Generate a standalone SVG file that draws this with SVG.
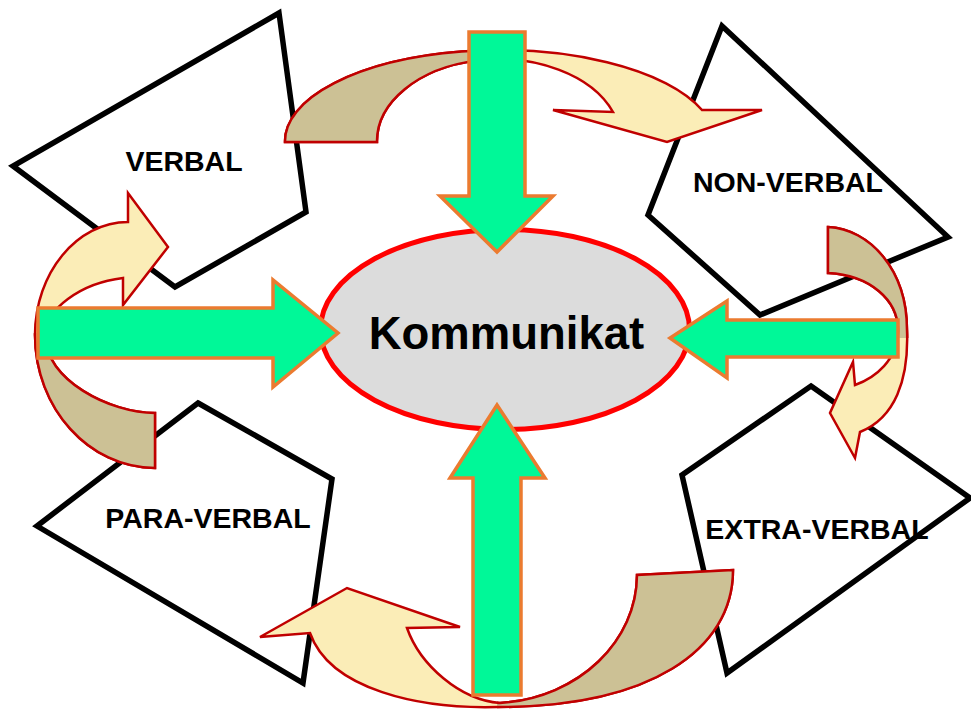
<svg xmlns="http://www.w3.org/2000/svg" width="971" height="709" viewBox="0 0 971 709">
<style>
.pent{fill:#fff;stroke:#000;stroke-width:5.5;stroke-linejoin:miter}
.lbl{font-family:"Liberation Sans",Arial,sans-serif;font-weight:bold;font-size:28.5px;fill:#000;text-anchor:middle}
.curl{fill:#FBEDB7;stroke:#C00000;stroke-width:2.5;stroke-linejoin:miter}
.curd{fill:#CCC195;stroke:#C00000;stroke-width:2.5;stroke-linejoin:miter}
.grn{fill:#00F898;stroke:#EB7B30;stroke-width:3.5;stroke-linejoin:miter}
</style>
<defs>
<path id="cTop" d="M285,142 A215,91 0 0 1 702,110 L762,110 L667,142 L553,110 L613,112 A122,82 0 0 0 377,142 Z"/>
<path id="cLeft" d="M128,222 C77,222 35,273 35,335 C35,408 89,468 155,468 L155,413 C110,413 45,380 45,335 C45,310 80,283 123,278 L123,305 L168,247 L128,193 Z"/>
<path id="cRight" d="M828,227 C870,229 907,270 907,330 C909,380 895,418 860,432 L855,458 L830,413 L853,362 L855,385 C875,378 898,360 898,330 C898,300 870,275 828,273 Z"/>
<path id="cBot" d="M733,570 C733,650 650,707 497,707 C420,709 330,690 310,633 L260,637 L347,588 L460,627 L407,628 C420,665 460,700 500,703 C580,698 637,640 637,575 Z"/>
<clipPath id="clipTop"><rect x="0" y="0" width="497" height="709"/></clipPath>
<clipPath id="clipLeft"><rect x="0" y="333" width="971" height="400"/></clipPath>
<clipPath id="clipRight"><rect x="0" y="0" width="971" height="338"/></clipPath>
<clipPath id="clipBot"><rect x="497" y="0" width="500" height="709"/></clipPath>
</defs>
<g id="node-verbal">
<polygon class="pent" points="279,13 306,212 175,287 13,166"/>
<text class="lbl" x="184" y="171">VERBAL</text>
</g>
<g id="node-nonverbal">
<polygon class="pent" points="722,26 948,237 760,315 648,215"/>
<text class="lbl" x="788" y="192">NON-VERBAL</text>
</g>
<g id="node-paraverbal">
<polygon class="pent" points="198,403 332,479 303,683 37,526"/>
<text class="lbl" x="208" y="528">PARA-VERBAL</text>
</g>
<g id="node-extraverbal">
<polygon class="pent" points="811,386 970,498 727,673 682,475"/>
<text class="lbl" x="817" y="539">EXTRA-VERBAL</text>
</g>
<g id="connectors">
<g id="curved-arrows">
<use href="#cTop" class="curl"/>
<use href="#cTop" class="curd" clip-path="url(#clipTop)"/>
<use href="#cLeft" class="curl"/>
<use href="#cLeft" class="curd" clip-path="url(#clipLeft)"/>
<use href="#cRight" class="curl"/>
<use href="#cRight" class="curd" clip-path="url(#clipRight)"/>
<use href="#cBot" class="curl"/>
<use href="#cBot" class="curd" clip-path="url(#clipBot)"/>
</g>
</g>
<g id="node-kommunikat">
<ellipse cx="505" cy="329.5" rx="184.5" ry="100" fill="#DCDCDC" stroke="#FF0000" stroke-width="5"/>
<text x="506.5" y="349" font-family="Liberation Sans, Arial, sans-serif" font-weight="bold" font-size="45.5" text-anchor="middle" fill="#000">Kommunikat</text>
</g>
<g id="connectors-straight">
<path class="grn" d="M469,32 L525,32 L525,196 L553,196 L497,252 L440,196 L469,196 Z"/>
<path class="grn" d="M473,695 L521,695 L521,478 L545,478 L497,405 L450,478 L473,478 Z"/>
<path class="grn" d="M38,308 L273,308 L273,280 L338,333 L273,387 L273,358 L38,358 Z"/>
<path class="grn" d="M898,320 L727,320 L727,301 L670,338 L727,378 L727,357 L898,357 Z"/>
</g>
</svg>
